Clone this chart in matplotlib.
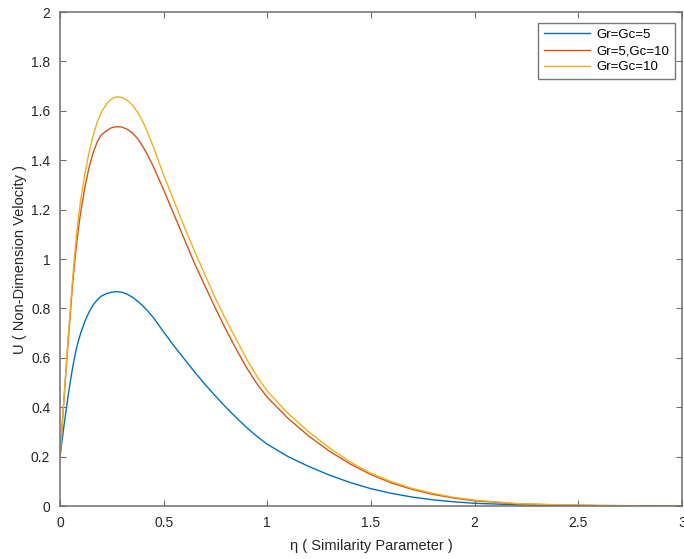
import numpy as np
import matplotlib
matplotlib.use('Agg')
import matplotlib.pyplot as plt
from matplotlib.ticker import FuncFormatter

# values
eta = [0, 0.01, 0.02, 0.03, 0.04, 0.05, 0.06, 0.07, 0.08, 0.09, 0.1, 0.12, 0.14, 0.16, 0.18,
       0.2, 0.225, 0.25, 0.275, 0.3, 0.325, 0.35, 0.375, 0.4, 0.425, 0.45, 0.5, 0.55, 0.6, 0.65, 0.7,
       0.75, 0.8, 0.85, 0.9, 0.95, 1.0, 1.1, 1.2, 1.3, 1.4, 1.5, 1.6, 1.7, 1.8, 1.9, 2.0,
       2.2, 2.4, 2.6, 2.8, 3.0]

u_gr5_gc5 = [0.20, 0.265, 0.33, 0.39, 0.45, 0.505, 0.555, 0.60, 0.64, 0.672, 0.70, 0.748, 0.785, 0.814, 0.835,
             0.85, 0.86, 0.866, 0.868, 0.865, 0.857, 0.845, 0.829, 0.81, 0.788, 0.763, 0.705, 0.648, 0.595, 0.542, 0.492,
             0.445, 0.40, 0.358, 0.318, 0.282, 0.25, 0.2, 0.16, 0.125, 0.095, 0.07, 0.051, 0.036, 0.025, 0.017, 0.011,
             0.005, 0.002, 0.001, 0.0, 0.0]

u_gr5_gc10 = [0.20, 0.32, 0.44, 0.56, 0.67, 0.78, 0.89, 0.98, 1.06, 1.13, 1.19, 1.29, 1.37, 1.43, 1.475,
              1.503, 1.52, 1.532, 1.536, 1.534, 1.525, 1.51, 1.487, 1.455, 1.418, 1.375, 1.28, 1.18, 1.08, 0.98, 0.89,
              0.80, 0.715, 0.635, 0.56, 0.495, 0.44, 0.355, 0.283, 0.222, 0.17, 0.127, 0.093, 0.067, 0.047, 0.032, 0.021,
              0.009, 0.004, 0.002, 0.001, 0.0]

u_gr10_gc10 = [0.20, 0.32, 0.445, 0.57, 0.69, 0.80, 0.91, 1.01, 1.10, 1.175, 1.24, 1.345, 1.43, 1.50, 1.555,
               1.595, 1.628, 1.649, 1.657, 1.654, 1.642, 1.623, 1.594, 1.555, 1.508, 1.455, 1.34, 1.235, 1.13, 1.03, 0.935,
               0.84, 0.755, 0.675, 0.595, 0.525, 0.465, 0.375, 0.30, 0.235, 0.178, 0.132, 0.098, 0.071, 0.051, 0.035, 0.024,
               0.01, 0.005, 0.002, 0.001, 0.0]

labels = ['Gr=Gc=5', 'Gr=5,Gc=10', 'Gr=Gc=10']
colors = ['#0072BD', '#D95319', '#EDB120']

plt.rcParams['font.family'] = ['Liberation Sans', 'DejaVu Sans']

fig = plt.figure(figsize=(6.84, 5.59), dpi=100)
ax = fig.add_axes([0.0877, 0.0948, 0.9093, 0.8837])

for y, lab, c in zip([u_gr5_gc5, u_gr5_gc10, u_gr10_gc10], labels, colors):
    ax.plot(eta, y, color=c, lw=1.0, label=lab)

ax.set_xlim(0, 3)
ax.set_ylim(0, 2)
ax.set_xticks(np.arange(0, 3.01, 0.5))
ax.set_yticks(np.arange(0, 2.01, 0.2))
ax.xaxis.set_major_formatter(FuncFormatter(lambda v, p: '%g' % round(v, 2)))
ax.yaxis.set_major_formatter(FuncFormatter(lambda v, p: '%g' % round(v, 2)))

axcol = '#6e6e6e'
for s in ax.spines.values():
    s.set_color(axcol)
    s.set_linewidth(1.1)
ax.tick_params(direction='in', length=4, width=0.8, color=axcol, labelsize=10,
               top=True, right=True, labelcolor='#262626')
ax.tick_params(axis='x', pad=7)
ax.tick_params(axis='y', pad=7)

ax.set_xlabel('η ( Similarity Parameter )', fontsize=10.5, color='#262626', labelpad=7)
ax.set_ylabel('U ( Non-Dimension Velocity )', fontsize=10.5, color='#262626', labelpad=3)

leg = ax.legend(loc='upper right', fontsize=9.5, frameon=True, fancybox=False,
                handlelength=3.5, borderpad=0.45, labelspacing=0.3, handletextpad=0.5,
                borderaxespad=0, bbox_to_anchor=(0.989, 0.978))
leg.get_frame().set_edgecolor('#555555')
leg.get_frame().set_linewidth(1.0)

fig.savefig('out.png', dpi=100)
